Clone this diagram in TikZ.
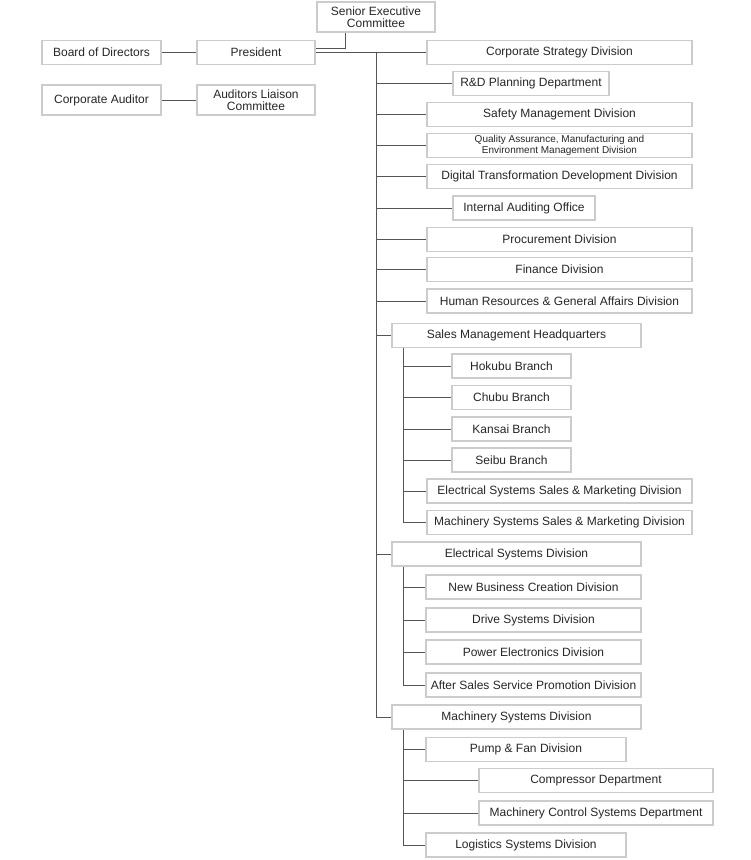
\documentclass[tikz,border=0pt]{standalone}
\usepackage{fontspec}
\setmainfont{Liberation Sans}
\usetikzlibrary{positioning,backgrounds}
\definecolor{boxgray}{HTML}{CCCCCC}
\definecolor{linegray}{HTML}{555555}

\begin{document}
\begin{tikzpicture}[x=1pt, y=-1pt,
    font=\fontsize{12}{12}\selectfont, text=black!85,
    box/.style={draw=boxgray, line width=1.8pt, align=center, inner sep=2pt, minimum height=24pt},
    div/.style={box, minimum width=265pt},
    grp/.style={box, minimum width=249pt},
    br/.style={box, minimum width=119pt},
    sub/.style={box, minimum width=215pt},
    unit/.style={box, minimum width=200pt},
    dept/.style={box, minimum width=234pt},
    link/.style={draw=linegray, line width=0.9pt}]
  \useasboundingbox (0,0) rectangle (751,860);
  \node[box, minimum width=118pt, minimum height=30pt] (sec) at (376,17) {Senior Executive\\Committee};
  \node[box, minimum width=119pt] (bod) at (101.5,52.5) {Board of Directors};
  \node[box, minimum width=118pt] (pres) at (256,52.5) {President};
  \node[box, minimum width=119pt, minimum height=30pt] (aud) at (101.5,100) {Corporate Auditor};
  \node[box, minimum width=118pt, minimum height=30pt] (alc) at (256,100) {Auditors Liaison\\Committee};
  \node[div] (csd) at (559.5,52.5) {Corporate Strategy Division};
  \node[box, minimum width=156pt] (rnd) at (531,83.5) {R\&D Planning Department};
  \node[div] (safe) at (559.5,114.5) {Safety Management Division};
  \node[div, font=\fontsize{10}{10.5}\selectfont] (qa) at (559.5,145.5) {Quality Assurance, Manufacturing and\\Environment Management Division};
  \node[div] (dx) at (559.5,176.5) {Digital Transformation Development Division};
  \node[box, minimum width=142pt] (iao) at (524,208) {Internal Auditing Office};
  \node[div] (proc) at (559.5,239.5) {Procurement Division};
  \node[div] (fin) at (559.5,269.5) {Finance Division};
  \node[div] (hr) at (559.5,301) {Human Resources \& General Affairs Division};
  \node[grp] (smh) at (516.5,335.5) {Sales Management Headquarters};
  \node[br] (hok) at (511.5,366) {Hokubu Branch};
  \node[br] (chu) at (511.5,397.5) {Chubu Branch};
  \node[br] (kan) at (511.5,429) {Kansai Branch};
  \node[br] (sei) at (511.5,460) {Seibu Branch};
  \node[div] (essm) at (559.5,491) {Electrical Systems Sales \& Marketing Division};
  \node[div] (mssm) at (559.5,522.5) {Machinery Systems Sales \& Marketing Division};
  \node[grp] (esd) at (516.5,554) {Electrical Systems Division};
  \node[sub] (nbc) at (533.5,587) {New Business Creation Division};
  \node[sub] (drv) at (533.5,620) {Drive Systems Division};
  \node[sub] (pe) at (533.5,652) {Power Electronics Division};
  \node[sub] (asp) at (533.5,685) {After Sales Service Promotion Division};
  \node[grp] (msd) at (516.5,717) {Machinery Systems Division};
  \node[unit] (pump) at (526,749.5) {Pump \& Fan Division};
  \node[dept] (comp) at (596,780.5) {Compressor Department};
  \node[dept] (mcs) at (596,813) {Machinery Control Systems Department};
  \node[unit] (logi) at (526,845) {Logistics Systems Division};
  \coordinate (spine) at (376,52.5);
  \coordinate (smhsp) at ([xshift=12pt]smh.south west);
  \coordinate (esdsp) at ([xshift=12pt]esd.south west);
  \coordinate (msdsp) at ([xshift=12pt]msd.south west);
  \begin{scope}[on background layer]
    \draw[link] (bod) -- (pres);
    \draw[link] (aud) -- (alc);
    \draw[link] ([yshift=4.5pt]pres.east) -| ([xshift=-31pt]sec.south);
    \draw[link] (pres.east) -- (csd.west);
    \foreach \n in {rnd,safe,qa,dx,iao,proc,fin,hr,smh,esd,msd}
      \draw[link] (spine) |- (\n.west);
    \foreach \n in {hok,chu,kan,sei,essm,mssm}
      \draw[link] (smhsp) |- (\n.west);
    \foreach \n in {nbc,drv,pe,asp}
      \draw[link] (esdsp) |- (\n.west);
    \foreach \n in {pump,comp,mcs,logi}
      \draw[link] (msdsp) |- (\n.west);
  \end{scope}
\end{tikzpicture}
\end{document}
